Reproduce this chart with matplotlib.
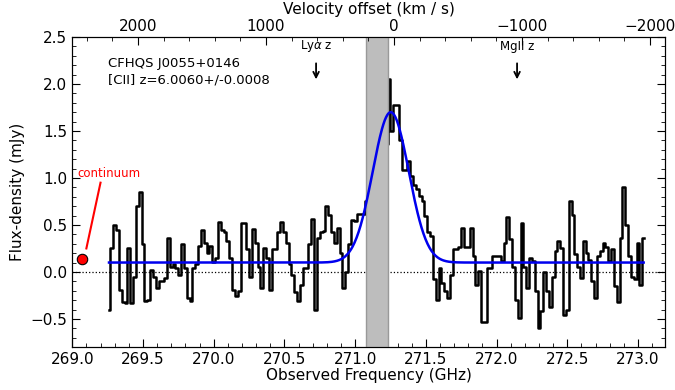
import numpy as np
import matplotlib
matplotlib.use("Agg")
import matplotlib.pyplot as plt
from matplotlib.ticker import MultipleLocator

# spectrum channels (GHz) and flux density (mJy)
freq_start = 269.26
chan_width = 0.02
flux = [
    -0.40, 0.25, 0.50, 0.45, -0.19, -0.32, -0.33, 0.25, -0.33, -0.05,
    0.70, 0.85, 0.30, -0.31, -0.30, 0.02, -0.05, -0.17, -0.10, -0.10,
    -0.06, 0.36, 0.05, 0.08, 0.04, -0.03, 0.30, 0.04, -0.28, -0.31,
    0.04, 0.08, 0.28, 0.45, 0.31, 0.20, 0.28, 0.11, 0.15, 0.53,
    0.45, 0.42, 0.33, 0.15, -0.19, -0.26, -0.20, 0.52, 0.52, 0.24,
    -0.05, 0.46, 0.31, 0.05, -0.17, 0.25, 0.15, -0.19, 0.24, 0.24,
    0.42, 0.53, 0.42, 0.31, 0.08, -0.03, -0.21, -0.31, -0.14, 0.04,
    0.04, 0.30, 0.56, -0.40, 0.36, 0.42, 0.44, 0.70, 0.61, 0.42,
    0.31, 0.47, 0.20, -0.17, 0.00, 0.30, 0.55, 0.54, 0.62, 0.62,
    0.62, 0.75, 0.95, 1.10, 1.30, 1.45, 1.60, 1.50, 1.36, 2.05,
    1.50, 1.78, 1.78, 1.40, 1.08, 1.08, 1.18, 1.02, 0.92, 0.88,
    0.81, 0.76, 0.60, 0.43, 0.38, -0.08, -0.30, 0.04, -0.12, -0.20,
    -0.28, -0.03, 0.24, 0.24, 0.27, 0.47, 0.27, 0.27, 0.47, 0.17,
    -0.14, 0.01, -0.53, -0.53, 0.04, 0.04, 0.17, 0.17, 0.17, 0.12,
    0.31, 0.58, 0.35, 0.05, -0.30, -0.49, 0.52, 0.05, -0.17, 0.15,
    0.12, -0.20, -0.60, -0.42, 0.00, -0.20, -0.37, -0.05, 0.22, 0.33,
    0.25, -0.46, -0.40, 0.76, 0.61, 0.19, 0.05, -0.06, 0.33, 0.20,
    0.13, -0.10, -0.28, 0.17, 0.22, 0.31, 0.27, 0.12, 0.24, -0.15,
    -0.32, 0.36, 0.90, 0.50, 0.17, -0.05, -0.08, 0.31, -0.14, 0.36,
]
freq = freq_start + chan_width * np.arange(len(flux))

# gaussian fit parameters
fit_cont = 0.10
fit_amp = 1.60
fit_center = 271.252
fit_fwhm = 0.30

f_cii = 271.275          # [CII] at z=6.006
c_kms = 299792.458
band = (271.08, 271.23)  # shaded region
lya_freq = 270.724
mgii_freq = 272.145
cont_freq, cont_flux = 269.07, 0.135

def to_vel(f):
    return (f_cii - f) / f_cii * c_kms

fig = plt.figure(figsize=(6.75, 3.9), dpi=100)
ax = fig.add_axes([0.107, 0.11, 0.878, 0.795])

ax.step(freq, flux, where='mid', color='k', lw=1.8, zorder=2)
ax.axvspan(band[0], band[1], facecolor='#bdbdbd', edgecolor='#999999', lw=1, zorder=3)

ff = np.linspace(freq[0], freq[-1], 800)
sig = fit_fwhm / 2.3548
model = fit_cont + fit_amp * np.exp(-0.5 * ((ff - fit_center) / sig) ** 2)
ax.plot(ff, model, color='#0000ee', lw=1.8, zorder=4)

ax.axhline(0, color='k', ls=':', lw=0.9, zorder=1)

# continuum point
ax.plot([cont_freq], [cont_flux], 'o', mfc='red', mec='k', mew=0.8, ms=7.5, zorder=5)
ax.plot([269.10, 269.20], [0.25, 0.95], color='red', lw=1.5)
ax.text(269.26, 1.05, 'continuum', color='red', fontsize=8.5, ha='center', va='center')

# line markers
for fpos, lab in [(lya_freq, r'Ly$\alpha$ z'), (mgii_freq, 'MgII z')]:
    ax.annotate('', xy=(fpos, 2.02), xytext=(fpos, 2.25),
                arrowprops=dict(arrowstyle='->', color='k', lw=1.3))
    ax.text(fpos, 2.40, lab, fontsize=8.5, ha='center', va='center')

ax.text(269.25, 2.22, 'CFHQS J0055+0146', fontsize=9.5, ha='left', va='center')
ax.text(269.25, 2.04, '[CII] z=6.0060+/-0.0008', fontsize=9.5, ha='left', va='center')

ax.set_xlim(269.0, 273.19)
ax.set_ylim(-0.8, 2.5)
ax.xaxis.set_major_locator(MultipleLocator(0.5))
ax.xaxis.set_minor_locator(MultipleLocator(0.1))
ax.yaxis.set_major_locator(MultipleLocator(0.5))
ax.yaxis.set_minor_locator(MultipleLocator(0.1))
ax.tick_params(which='both', direction='in', right=True, top=False, labelsize=11)
ax.tick_params(which='major', length=6)
ax.tick_params(which='minor', length=3)
ax.set_xlabel('Observed Frequency (GHz)', fontsize=11, labelpad=1)
ax.set_ylabel('Flux-density (mJy)', fontsize=11)

ax2 = ax.twiny()
ax2.set_xlim(to_vel(269.0), to_vel(273.19))
ax2.xaxis.set_major_locator(MultipleLocator(1000))
ax2.xaxis.set_minor_locator(MultipleLocator(200))
ax2.tick_params(which='both', direction='in', labelsize=11, pad=2)
ax2.tick_params(which='major', length=6)
ax2.tick_params(which='minor', length=3)
ax2.set_xlabel('Velocity offset (km / s)', fontsize=11)
ax2.xaxis.set_label_coords(0.5, 1.075)

fig.savefig('out.png', dpi=100)
